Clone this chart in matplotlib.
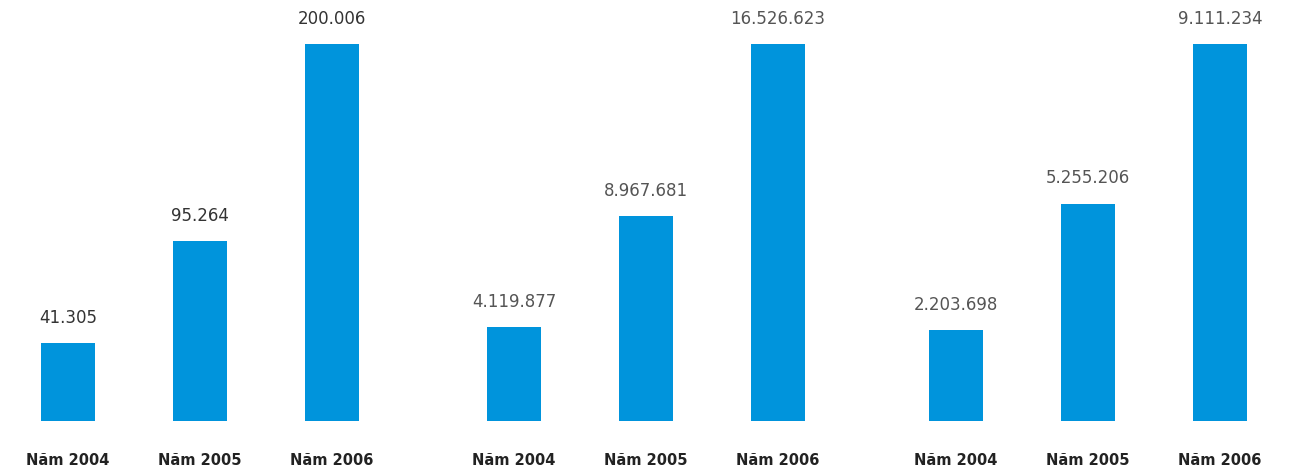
import matplotlib.pyplot as plt

years = ["Năm 2004", "Năm 2005", "Năm 2006"]
panel_a = [41305, 95264, 200006]
panel_b = [4119877, 8967681, 16526623]
panel_c = [2203698, 5255206, 9111234]

bar_color = "#0094DC"
W, H = 1302, 472

fig = plt.figure(figsize=(W / 100, H / 100), dpi=100)

# each panel is scaled on its own, tallest bar the same height
lefts = [2, 448, 890]
text_colors = ["#333333", "#555555", "#555555"]
for left, vals, tc in zip(lefts, [panel_a, panel_b, panel_c], text_colors):
    ax = fig.add_axes([left / W, (H - 421) / H, 396 / W, 377 / H])
    x = range(len(vals))
    ax.bar(x, vals, width=54 / 132, color=bar_color)
    ax.set_xlim(-0.5, 2.5)
    ax.set_ylim(0, max(vals))
    for xi, v in zip(x, vals):
        ax.annotate(f"{v:,}".replace(",", "."), (xi, v), xytext=(0, 14.5),
                    textcoords="offset points", ha="center", va="baseline",
                    fontsize=12, family="DejaVu Sans", color=tc,
                    annotation_clip=False)
    ax.set_xticks(list(x))
    ax.set_xticklabels(years, fontsize=10.5, fontweight="bold",
                       family="DejaVu Sans", color="#222222")
    ax.tick_params(axis="x", length=0, pad=23)
    ax.set_yticks([])
    for s in ax.spines.values():
        s.set_visible(False)

fig.savefig("out.png", dpi=100)
